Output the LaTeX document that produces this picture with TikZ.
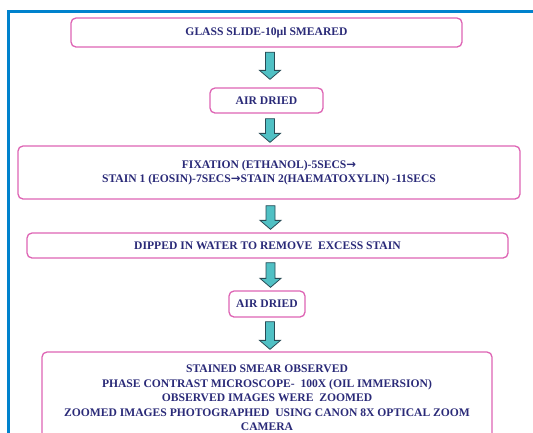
\documentclass[tikz,border=0pt]{standalone}
\usepackage{fontspec}
\setmainfont{Liberation Serif}
\newfontfamily\arrowfont{DejaVu Sans}
\usetikzlibrary{calc}
\definecolor{framec}{RGB}{0,130,205}
\definecolor{boxc}{RGB}{222,100,180}
\definecolor{txtc}{RGB}{42,42,120}
\definecolor{arrfill}{RGB}{80,192,196}
\definecolor{arrdraw}{RGB}{40,75,85}
\newcommand{\ra}{{\arrowfont\bfseries\char"2192}}
\tikzset{
  stepbox/.style={draw=boxc, line width=1.3pt, rounded corners=5pt, fill=white,
    text=txtc, font=\bfseries\fontsize{11.6}{14.5}\selectfont, align=center, inner sep=2pt},
  blockarr/.style={draw=arrdraw, fill=arrfill, line width=0.8pt, line join=miter}
}
% #1 upper node, #2 lower node, #3 x shift, #4 top gap, #5 bottom gap
\newcommand{\blockarrow}[5]{%
  \path let \p1=($(#1.south)+(#3,-#4)$), \p2=($(#2.north)+(#3,#5)$) in
    [blockarr] (\x1-4.5pt,\y1) -- (\x1+4.5pt,\y1) -- (\x1+4.5pt,\y2+9pt)
    -- (\x1+10.5pt,\y2+9pt) -- (\x1,\y2) -- (\x1-10.5pt,\y2+9pt)
    -- (\x1-4.5pt,\y2+9pt) -- cycle;}
\begin{document}
\begin{tikzpicture}[x=1pt,y=1pt]
\useasboundingbox (0,0) rectangle (533,-432);
\clip (0,0) rectangle (533,-432);
\fill[white] (0,0) rectangle (533,-432);
\draw[framec, line width=2.5pt] (8.3,-600) -- (8.3,-11.3) -- (600,-11.3);
\node[stepbox, minimum width=391pt, minimum height=29pt] (b1) at (266.5,-32.5) {GLASS SLIDE-10µl SMEARED};
\node[stepbox, minimum width=113pt, minimum height=25pt] (b2) at (266.5,-100.5) {AIR DRIED};
\node[stepbox, minimum width=502pt, minimum height=53pt] (b3) at (269,-172.5) {FIXATION (ETHANOL)-5SECS\ra\\STAIN 1 (EOSIN)-7SECS\ra STAIN 2(HAEMATOXYLIN) -11SECS};
\node[stepbox, minimum width=481pt, minimum height=25pt] (b4) at (267.5,-245.5) {DIPPED IN WATER TO REMOVE\ \ EXCESS STAIN};
\node[stepbox, minimum width=76pt, minimum height=26pt] (b5) at (267,-304) {AIR DRIED};
\node[stepbox, minimum width=450pt, minimum height=92pt] (b6) at (267,-398) {STAINED SMEAR OBSERVED\\PHASE CONTRAST MICROSCOPE-\ \ 100X (OIL IMMERSION)\\OBSERVED IMAGES WERE\ \ ZOOMED\\ZOOMED IMAGES PHOTOGRAPHED\ \ USING CANON 8X OPTICAL ZOOM\\CAMERA};
\blockarrow{b1}{b2}{3.5}{4.5}{8}
\blockarrow{b2}{b3}{3.5}{5}{3}
\blockarrow{b3}{b4}{1.5}{6}{3}
\blockarrow{b4}{b5}{3}{4}{3}
\blockarrow{b5}{b6}{3}{4}{2}
\end{tikzpicture}
\end{document}
